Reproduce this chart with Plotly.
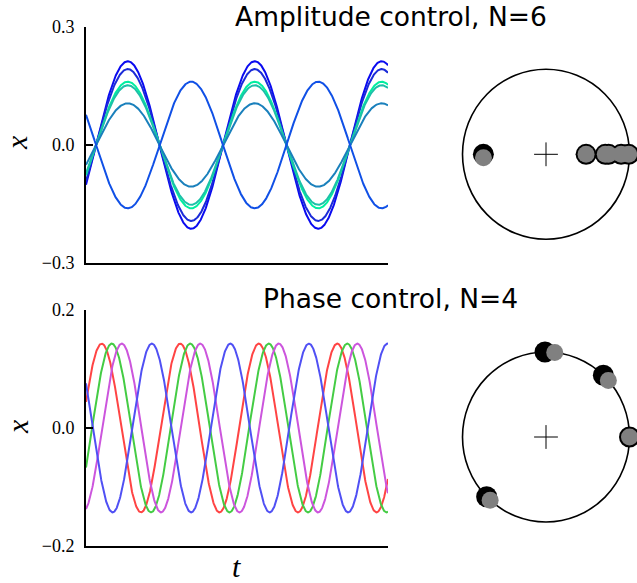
import numpy as np
import plotly.graph_objects as go

# ---------------- data ----------------
# time axis (arbitrary units, no tick labels shown)
t_max = 301.3
t = np.linspace(0, t_max, 900)

# Top panel: amplitude control, N=6
amp_top = [0.213, 0.193, 0.161, 0.152, 0.106, 0.161]
phase_top_deg = [0, 0, 0, 0, 0, 180]
period_top = 126.67
t0_top = 10.0
colors_top = ["#0a0af0", "#1a2ad8", "#00eea0", "#1cc0a8", "#1a80bc", "#1050e6"]

# Top circle: dot positions (radius as fraction of circle, angle in degrees)
circ_top_r_black = [0.48, 0.71, 0.75, 0.90, 0.99, 0.75]
circ_top_a_black = [0, 0, 0, 0, 0, 180]
circ_top_r_gray = [0.48, 0.71, 0.75, 0.90, 0.99, 0.75]
circ_top_a_gray = [0, 0, 0, 0, 0, 183]

# Bottom panel: phase control, N=4
amp_bot = [0.143, 0.143, 0.143, 0.143]
phase_bot_deg = [72, 118, 164, 302]
period_bot = 78.33
colors_bot = ["#ff4444", "#44cc44", "#cc55dd", "#5050f4"]

# Bottom circle
circ_bot_r_black = [1.0, 1.0, 1.0, 1.0]
circ_bot_a_black = [0, 46.6, 90.7, 224.7]
circ_bot_r_gray = [1.0, 1.0, 1.0, 1.0]
circ_bot_a_gray = [0, 41.7, 84.0, 228.0]

yticks_top = [-0.3, 0.0, 0.3]
yticks_top_text = ["\u22120.3", "0.0", "0.3"]
yticks_bot = [-0.2, 0.0, 0.2]
yticks_bot_text = ["\u22120.2", "0.0", "0.2"]

# ---------------- figure ----------------
fig = go.Figure()

for A, ph, c in zip(amp_top, phase_top_deg, colors_top):
    y = A * np.sin(2 * np.pi * (t - t0_top) / period_top + np.deg2rad(ph))
    fig.add_trace(go.Scatter(x=t, y=y, mode="lines", line=dict(color=c, width=2),
                             xaxis="x", yaxis="y", showlegend=False, hoverinfo="skip"))

for A, ph, c in zip(amp_bot, phase_bot_deg, colors_bot):
    y = A * np.cos(2 * np.pi * t / period_bot - np.deg2rad(ph))
    fig.add_trace(go.Scatter(x=t, y=y, mode="lines", line=dict(color=c, width=2),
                             xaxis="x3", yaxis="y3", showlegend=False, hoverinfo="skip"))


def polar_xy(r, a):
    r = np.asarray(r, float)
    a = np.deg2rad(np.asarray(a, float))
    return r * np.cos(a), r * np.sin(a)


for (rb, ab, rg, ag, xa, ya) in [
    (circ_top_r_black, circ_top_a_black, circ_top_r_gray, circ_top_a_gray, "x2", "y2"),
    (circ_bot_r_black, circ_bot_a_black, circ_bot_r_gray, circ_bot_a_gray, "x4", "y4"),
]:
    fig.add_trace(go.Scatter(x=[0], y=[0], mode="markers",
                             marker=dict(symbol="cross-thin", size=17,
                                         line=dict(color="black", width=1)),
                             xaxis=xa, yaxis=ya, showlegend=False, hoverinfo="skip"))
    bx, by = polar_xy(rb, ab)
    fig.add_trace(go.Scatter(x=bx, y=by, mode="markers",
                             marker=dict(color="black", size=21, line=dict(width=0)),
                             xaxis=xa, yaxis=ya, showlegend=False, hoverinfo="skip",
                             cliponaxis=False))
    gx, gy = polar_xy(rg, ag)
    fig.add_trace(go.Scatter(x=gx, y=gy, mode="markers",
                             marker=dict(color="#808080", size=17, line=dict(width=0)),
                             xaxis=xa, yaxis=ya, showlegend=False, hoverinfo="skip",
                             cliponaxis=False))
    fig.add_shape(type="circle", xref=xa, yref=ya, x0=-1, x1=1, y0=-1, y1=1,
                  line=dict(color="black", width=1.6), layer="below")

W, H = 637, 583
serif = "Liberation Serif, DejaVu Serif, serif"


def px_x(a, b):
    return [a / W, b / W]


def px_y(top, bottom):
    return [1 - bottom / H, 1 - top / H]


common_x = dict(showgrid=False, zeroline=False, showticklabels=False, ticks="",
                showline=True, linecolor="black", linewidth=2, range=[0, t_max],
                automargin=False)
common_y = dict(showgrid=False, zeroline=False, showline=True, linecolor="black",
                linewidth=2, ticks="inside", ticklen=7, tickwidth=2, tickcolor="black",
                ticklabelstandoff=6, automargin=False,
                tickfont=dict(family=serif, size=18, color="black"))
hidden = dict(visible=False, showgrid=False, zeroline=False, automargin=False)

fig.update_layout(
    width=W, height=H, autosize=False,
    margin=dict(l=0, r=0, t=0, b=0, pad=0),
    paper_bgcolor="white", plot_bgcolor="rgba(0,0,0,0)",
    xaxis=dict(domain=px_x(86, 388), anchor="y", **common_x),
    yaxis=dict(domain=px_y(27, 263), anchor="x", range=[-0.3, 0.3],
               tickvals=yticks_top, ticktext=yticks_top_text, **common_y),
    xaxis3=dict(domain=px_x(86, 388), anchor="y3", **common_x),
    yaxis3=dict(domain=px_y(310, 546), anchor="x3", range=[-0.2, 0.2],
                tickvals=yticks_bot, ticktext=yticks_bot_text, **common_y),
    xaxis2=dict(domain=px_x(446, 637), anchor="y2",
                range=[(446 - 546) / 83.5, (637 - 546) / 83.5], **hidden),
    yaxis2=dict(domain=px_y(54, 254), anchor="x2",
                range=[(154.3 - 254) / 85, (154.3 - 54) / 85], **hidden),
    xaxis4=dict(domain=px_x(446, 637), anchor="y4",
                range=[(446 - 546) / 83.5, (637 - 546) / 83.5], **hidden),
    yaxis4=dict(domain=px_y(337, 537), anchor="x4",
                range=[(437 - 537) / 85, (437 - 337) / 85], **hidden),
    annotations=[
        dict(text="Amplitude control, N=6", x=391 / W, y=1 - 17 / H, xref="paper", yref="paper",
             showarrow=False, xanchor="center", yanchor="middle",
             font=dict(family="DejaVu Sans", size=26.5, color="black")),
        dict(text="Phase control, N=4", x=390 / W, y=1 - 298 / H, xref="paper", yref="paper",
             showarrow=False, xanchor="center", yanchor="middle",
             font=dict(family="DejaVu Sans", size=26.5, color="black")),
        dict(text="<i>x</i>", x=17 / W, y=1 - 143 / H, xref="paper", yref="paper",
             showarrow=False, textangle=-90, xanchor="center", yanchor="middle",
             font=dict(family=serif, size=30, color="black")),
        dict(text="<i>x</i>", x=17 / W, y=1 - 427 / H, xref="paper", yref="paper",
             showarrow=False, textangle=-90, xanchor="center", yanchor="middle",
             font=dict(family=serif, size=30, color="black")),
        dict(text="<i>t</i>", x=236 / W, y=1 - 566 / H, xref="paper", yref="paper",
             showarrow=False, xanchor="center", yanchor="middle",
             font=dict(family=serif, size=30, color="black")),
    ],
)

fig.write_html("out.html")
